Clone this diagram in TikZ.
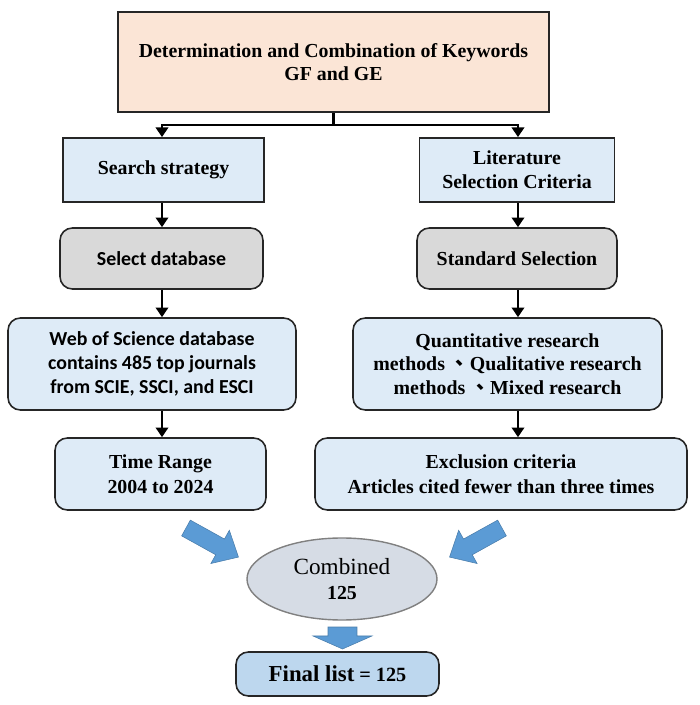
\documentclass[tikz,border=0pt]{standalone}
\usepackage{fontspec}
\setmainfont{Liberation Serif}
\newfontfamily\calibri{Carlito}
\newfontfamily\cjk{Noto Sans CJK TC}
\usepackage{tikz}
\usetikzlibrary{arrows.meta, positioning, calc, shapes.geometric}
\definecolor{melocoton}{RGB}{251,229,214}
\definecolor{azulclaro}{RGB}{222,235,247}
\definecolor{grisclaro}{RGB}{217,217,217}
\definecolor{grisazul}{RGB}{214,220,229}
\definecolor{azulmedio}{RGB}{189,215,238}
\definecolor{azulcito}{RGB}{91,155,213}
\tikzset{>={Triangle[length=5.5pt,width=7pt]},
	caja/.style={draw=black!85, line width=1pt, fill=azulclaro, align=center, inner sep=0pt, font=\fontsize{11.3}{13.5}\selectfont\bfseries},
	redonda/.style={caja, line width=0.9pt, rounded corners=7pt},
	calibrib/.style={font=\calibri\fontsize{11.3}{13.5}\selectfont\bfseries},
	enlace/.style={->, line width=1.6pt},
	bloque/.style={fill=azulcito, draw=azulcito!80!black, line width=0.3pt}}

\begin{document}
\begin{tikzpicture}
	\useasboundingbox (0,0) rectangle (14,14.1);

	\node[caja, fill=melocoton, line width=1.2pt, minimum width=8.62cm, minimum height=2cm] (keys) at (6.67,12.86) {Determination and Combination of Keywords\\GF and GE};

	\node[caja, minimum width=4.02cm, minimum height=1.28cm] (search) at (3.27,10.7) {Search strategy};
	\node[caja, minimum width=3.9cm, minimum height=1.28cm] (lit) at (10.34,10.7) {Literature\\Selection Criteria};

	\node[redonda, calibrib, fill=grisclaro, minimum width=4.06cm, minimum height=1.22cm] (select) at (3.23,8.93) {Select database};
	\node[redonda, fill=grisclaro, minimum width=4cm, minimum height=1.22cm] (std) at (10.34,8.93) {Standard Selection};

	\node[redonda, calibrib, minimum width=5.76cm, minimum height=1.84cm] (wos) at (3.04,6.82) {Web of Science database\\contains 485 top journals\\from SCIE, SSCI, and ESCI};
	\node[redonda, minimum width=6.18cm, minimum height=1.84cm] (quant) at (10.15,6.82) {Quantitative research\\methods {\cjk 、}Qualitative research\\methods {\cjk 、}Mixed research};

	\node[redonda, minimum width=4.22cm, minimum height=1.44cm, font=\fontsize{11.3}{14}\selectfont\bfseries] (time) at (3.21,4.62) {Time Range\\2004 to 2024};
	\node[redonda, minimum width=7.44cm, minimum height=1.44cm, font=\fontsize{11.3}{14}\selectfont\bfseries] (excl) at (10.02,4.62) {Exclusion criteria\\Articles cited fewer than three times};

	\node[ellipse, draw=gray, line width=0.8pt, fill=grisazul, minimum width=3.8cm, minimum height=1.64cm, inner sep=0pt, align=center, font=\fontsize{13.2}{14}\selectfont] (comb) at (6.84,2.52) {Combined\\{\fontsize{11.3}{14}\selectfont\bfseries 125}};

	\node[redonda, fill=azulmedio, minimum width=4.06cm, minimum height=0.88cm] (final) at (6.75,0.62) {{\fontsize{13}{15}\selectfont Final list} {\fontsize{11.5}{14}\selectfont = 125}};

	% columns of connectors
	\coordinate (colL) at (3.24,0);
	\coordinate (colR) at (10.36,0);
	\coordinate (split) at (6.67,11.6);
	\draw[enlace] (keys.south) -- (split) -| (search.north -| colL);
	\draw[enlace] (split) -| (lit.north -| colR);
	\foreach \a/\b in {search/select, select/wos, wos/time}
		\draw[enlace] (\a.south -| colL) -- (\b.north -| colL);
	\foreach \a/\b in {lit/std, std/quant, quant/excl}
		\draw[enlace] (\a.south -| colR) -- (\b.north -| colR);

	% block arrows into the ellipse
	\filldraw[bloque, shift={(3.72,3.54)}, rotate=-29] (0,-0.18) -- (0.78,-0.18) -- (0.78,-0.38) -- (1.2,0) -- (0.78,0.38) -- (0.78,0.18) -- (0,0.18) -- cycle;
	\filldraw[bloque, shift={(10.04,3.54)}, rotate=209] (0,-0.18) -- (0.78,-0.18) -- (0.78,-0.38) -- (1.2,0) -- (0.78,0.38) -- (0.78,0.18) -- (0,0.18) -- cycle;
	\filldraw[bloque, shift={(6.85,1.56)}, rotate=-90] (0,-0.29) -- (0.18,-0.29) -- (0.18,-0.59) -- (0.44,0) -- (0.18,0.59) -- (0.18,0.29) -- (0,0.29) -- cycle;
\end{tikzpicture}
\end{document}
